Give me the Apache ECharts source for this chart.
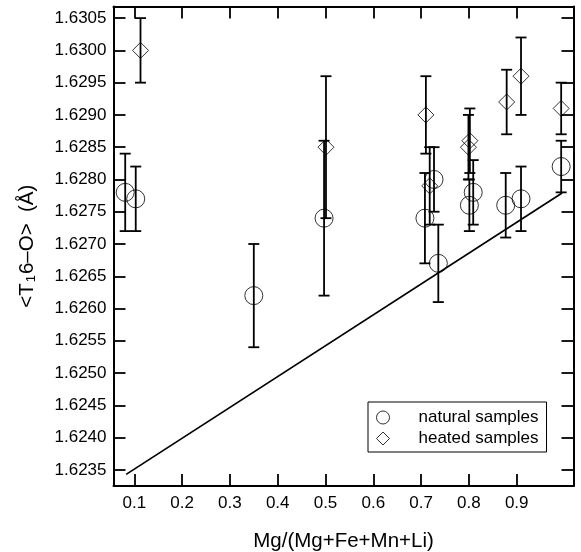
<!DOCTYPE html>
<html>
<head>
<meta charset="utf-8">
<script src="https://cdn.jsdelivr.net/npm/echarts@6/dist/echarts.min.js"></script>
<style>
  html, body { margin: 0; padding: 0; background: #ffffff; }
  #chart { width: 581px; height: 552px; }
</style>
</head>
<body>
<div id="chart"></div>
<script>
// Natural samples: composition, mean bond length and its uncertainty
const natX   = [0.081, 0.103, 0.350, 0.497, 0.708, 0.727, 0.736, 0.801, 0.809, 0.877, 0.909, 0.993];
const natY   = [1.6278, 1.6277, 1.6262, 1.6274, 1.6274, 1.6280, 1.6267, 1.6276, 1.6278, 1.6276, 1.6277, 1.6282];
const natErr = [0.0006, 0.0005, 0.0008, 0.0012, 0.0007, 0.0005, 0.0006, 0.0004, 0.0005, 0.0005, 0.0005, 0.0004];

// Heated samples
const heatX   = [0.113, 0.501, 0.710, 0.718, 0.799, 0.802, 0.879, 0.909, 0.993];
const heatY   = [1.6300, 1.6285, 1.6290, 1.6279, 1.6285, 1.6286, 1.6292, 1.6296, 1.6291];
const heatErr = [0.0005, 0.0011, 0.0006, 0.0006, 0.0005, 0.0005, 0.0005, 0.0006, 0.0004];

// Reference trend line end points
const lineX = [0.083, 0.995];
const lineY = [1.62343, 1.62779];

// Tick positions
const xTicks = [0.1, 0.2, 0.3, 0.4, 0.5, 0.6, 0.7, 0.8, 0.9];
const yTicks = [1.6235, 1.6240, 1.6245, 1.6250, 1.6255, 1.6260, 1.6265, 1.6270,
                1.6275, 1.6280, 1.6285, 1.6290, 1.6295, 1.6300, 1.6305];

const FONT = "'Liberation Sans', Arial, Helvetica, sans-serif";
const X_MIN = 0.0565, X_MAX = 1.0188;
const Y_MIN = 1.62325, Y_MAX = 1.63068;

const zip3 = (a, b, c) => a.map((v, i) => [v, b[i], c[i]]);
const natData = zip3(natX, natY, natErr);
const heatData = zip3(heatX, heatY, heatErr);
const lineData = lineX.map((v, i) => [v, lineY[i]]);

// Vertical error bar with short caps, positioned through the axis scales
function errorBar(params, api) {
  const x = api.value(0), y = api.value(1), e = api.value(2);
  const top = api.coord([x, y + e]);
  const bot = api.coord([x, y - e]);
  const cap = 5.5;
  const style = { stroke: '#000', lineWidth: 1.8 };
  return {
    type: 'group',
    children: [
      { type: 'line', shape: { x1: top[0], y1: top[1], x2: bot[0], y2: bot[1] }, style },
      { type: 'line', shape: { x1: top[0] - cap, y1: top[1], x2: top[0] + cap, y2: top[1] }, style },
      { type: 'line', shape: { x1: bot[0] - cap, y1: bot[1], x2: bot[0] + cap, y2: bot[1] }, style }
    ]
  };
}

const axisLine = { show: true, onZero: false, lineStyle: { color: '#000', width: 2 } };
const tickX = { show: true, inside: true, length: 12, customValues: xTicks, lineStyle: { color: '#000', width: 1.8 } };
const tickY = { show: true, inside: true, length: 12, customValues: yTicks, lineStyle: { color: '#000', width: 1.8 } };

const chart = echarts.init(document.getElementById('chart'), null, { renderer: 'canvas' });
chart.setOption({
  animation: false,
  backgroundColor: '#ffffff',
  textStyle: { fontFamily: FONT, color: '#000' },
  grid: { left: 113.5, right: 7.5, top: 6.5, bottom: 66, containLabel: false, outerBoundsMode: 'none' },
  xAxis: [
    {
      type: 'value', position: 'bottom', min: X_MIN, max: X_MAX,
      axisLine, axisTick: tickX, splitLine: { show: false },
      axisLabel: { customValues: xTicks, margin: 9, fontSize: 17, fontFamily: FONT, color: '#000',
                   formatter: v => v.toFixed(1) },
      name: 'Mg/(Mg+Fe+Mn+Li)', nameLocation: 'middle', nameGap: 45,
      nameTextStyle: { fontSize: 20.5, fontFamily: FONT, color: '#000' }
    },
    {
      type: 'value', position: 'top', min: X_MIN, max: X_MAX,
      axisLine, axisTick: tickX, axisLabel: { show: false }, splitLine: { show: false }
    }
  ],
  yAxis: [
    {
      type: 'value', position: 'left', min: Y_MIN, max: Y_MAX,
      axisLine, axisTick: tickY, splitLine: { show: false },
      axisLabel: { customValues: yTicks, margin: 7, fontSize: 17, fontFamily: FONT, color: '#000',
                   formatter: v => v.toFixed(4) },
      name: '{m|<T}{s|1}{m|6–O>  (Å)}', nameLocation: 'middle', nameGap: 76,
      nameTextStyle: {
        fontFamily: FONT, color: '#000',
        rich: {
          m: { fontSize: 20.5, fontFamily: FONT, color: '#000' },
          s: { fontSize: 13, fontFamily: FONT, color: '#000', padding: [8, 1, 0, 1] }
        }
      }
    },
    {
      type: 'value', position: 'right', min: Y_MIN, max: Y_MAX,
      axisLine, axisTick: tickY, axisLabel: { show: false }, splitLine: { show: false }
    }
  ],
  legend: {
    orient: 'vertical', left: 368, top: 402,
    borderColor: '#000', borderWidth: 1, borderRadius: 0,
    padding: [7, 8, 5, 8], itemGap: 4, itemWidth: 13, itemHeight: 13,
    itemStyle: { borderWidth: 1 },
    textStyle: { fontSize: 17, fontFamily: FONT, color: '#000', padding: [0, 0, 0, 24] },
    data: ['natural samples', 'heated samples']
  },
  series: [
    {
      name: 'trend', type: 'line', data: lineData, symbol: 'none', silent: true,
      lineStyle: { color: '#000', width: 1.7 }, z: 1
    },
    {
      name: 'natural error', type: 'custom', renderItem: errorBar, data: natData,
      encode: { x: 0, y: 1 }, silent: true, z: 3
    },
    {
      name: 'heated error', type: 'custom', renderItem: errorBar, data: heatData,
      encode: { x: 0, y: 1 }, silent: true, z: 3
    },
    {
      name: 'natural samples', type: 'scatter', data: natData, symbol: 'circle', symbolSize: 18,
      itemStyle: { color: 'rgba(0,0,0,0)', borderColor: '#000', borderWidth: 1 }, z: 2
    },
    {
      name: 'heated samples', type: 'scatter', data: heatData, symbol: 'diamond', symbolSize: 16,
      itemStyle: { color: 'rgba(0,0,0,0)', borderColor: '#000', borderWidth: 1 }, z: 2
    }
  ]
});
</script>
</body>
</html>
